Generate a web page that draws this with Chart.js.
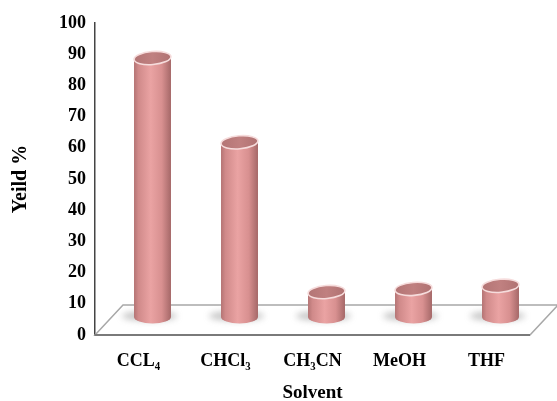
<!DOCTYPE html>
<html>
<head>
<meta charset="utf-8">
<script src="https://cdn.jsdelivr.net/npm/chart.js@4"></script>
<style>
  body { margin: 0; background: #fff; }
  canvas { display: block; }
</style>
</head>
<body>
<canvas id="yieldChart" width="557" height="401"></canvas>
<script>
const solvents = ["CCL₄", "CHCl₃", "CH₃CN", "MeOH", "THF"];
const yields = [83, 56, 8, 9, 10];
const yMin = 0;
const yMax = 100;
const yStep = 10;

const serif = "'Liberation Serif', 'Times New Roman', serif";

// depth of the 3D floor (front edge -> back edge)
const depthX = 28;
const depthY = -30;

// floor plate under the cylinders
const floorPlugin = {
  id: "floor",
  beforeDatasetsDraw(chart) {
    const ctx = chart.ctx;
    const area = chart.chartArea;
    const y0 = chart.scales.y.getPixelForValue(0);
    ctx.save();
    ctx.fillStyle = "#ffffff";
    ctx.beginPath();
    ctx.moveTo(area.left, y0);
    ctx.lineTo(area.right, y0);
    ctx.lineTo(area.right + depthX, y0 + depthY);
    ctx.lineTo(area.left + depthX, y0 + depthY);
    ctx.closePath();
    ctx.fill();
    ctx.strokeStyle = "#a8a8a8";
    ctx.lineWidth = 1.5;
    ctx.stroke();
    ctx.strokeStyle = "#7a7a7a";
    ctx.lineWidth = 2;
    ctx.beginPath();
    ctx.moveTo(area.left, y0);
    ctx.lineTo(area.right, y0);
    ctx.stroke();
    ctx.restore();
  }
};

// cylinders drawn on top of the (transparent) bar elements
const cylinderPlugin = {
  id: "cylinders",
  afterDatasetsDraw(chart) {
    const ctx = chart.ctx;
    const bars = chart.getDatasetMeta(0).data;
    const dx = depthX / 2;
    const dy = depthY / 2 - 3;
    bars.forEach(bar => {
      const cx = bar.x + dx;
      const top = bar.y + dy;
      const base = bar.base + dy;
      const r = bar.width / 2;
      const ry = 6.5;
      const left = cx - r;
      const right = cx + r;

      ctx.save();
      // soft shadow on the floor
      ctx.filter = "blur(3px)";
      ctx.fillStyle = "rgba(110, 110, 110, 0.4)";
      ctx.beginPath();
      ctx.ellipse(cx - 3, base - 1, r + 9, 5, 0, 0, Math.PI * 2);
      ctx.fill();
      ctx.filter = "none";

      // body
      const g = ctx.createLinearGradient(left, 0, right, 0);
      g.addColorStop(0, "#b47474");
      g.addColorStop(0.12, "#d08a8a");
      g.addColorStop(0.45, "#eaa3a3");
      g.addColorStop(0.75, "#d89090");
      g.addColorStop(1, "#a56868");
      ctx.fillStyle = g;
      ctx.beginPath();
      ctx.moveTo(left, top);
      ctx.lineTo(left, base);
      ctx.ellipse(cx, base, r, ry, 0, Math.PI, 0, true);
      ctx.lineTo(right, top);
      ctx.closePath();
      ctx.fill();

      // top face
      const tg = ctx.createLinearGradient(left, 0, right, 0);
      tg.addColorStop(0, "#b37575");
      tg.addColorStop(0.5, "#c08080");
      tg.addColorStop(1, "#b07272");
      ctx.fillStyle = tg;
      ctx.beginPath();
      ctx.ellipse(cx, top, r, ry, -0.08, 0, Math.PI * 2);
      ctx.fill();
      ctx.strokeStyle = "#f6dcdc";
      ctx.lineWidth = 1.6;
      ctx.stroke();
      ctx.restore();
    });
  }
};

new Chart(document.getElementById("yieldChart"), {
  type: "bar",
  data: {
    labels: solvents,
    datasets: [{
      label: "Yeild %",
      data: yields,
      backgroundColor: "rgba(0,0,0,0)",
      barPercentage: 0.85,
      categoryPercentage: 0.5
    }]
  },
  options: {
    responsive: false,
    animation: false,
    layout: { padding: { top: 23, right: 27, left: 0, bottom: 0 } },
    plugins: {
      legend: { display: false },
      tooltip: { enabled: false }
    },
    scales: {
      x: {
        grid: { display: false, drawTicks: false },
        border: { display: false },
        ticks: {
          color: "#000",
          padding: 16,
          maxRotation: 0,
          font: { family: serif, size: 18, weight: "bold" }
        },
        title: {
          display: true,
          text: "Solvent",
          color: "#000",
          padding: { top: 0, bottom: -3 },
          font: { family: serif, size: 19, weight: "bold" }
        },
        afterFit(scale) { scale.height = 66; }
      },
      y: {
        min: yMin,
        max: yMax,
        grid: { display: false, drawTicks: false },
        border: { display: true, color: "#444", width: 1.5 },
        ticks: {
          stepSize: yStep,
          color: "#000",
          padding: 9,
          font: { family: serif, size: 18, weight: "bold" }
        },
        title: {
          display: true,
          text: "Yeild %",
          color: "#000",
          padding: { top: 9, bottom: 0 },
          font: { family: serif, size: 20, weight: "bold" }
        },
        afterFit(scale) { scale.width = 95; }
      }
    }
  },
  plugins: [floorPlugin, cylinderPlugin]
});
</script>
</body>
</html>
